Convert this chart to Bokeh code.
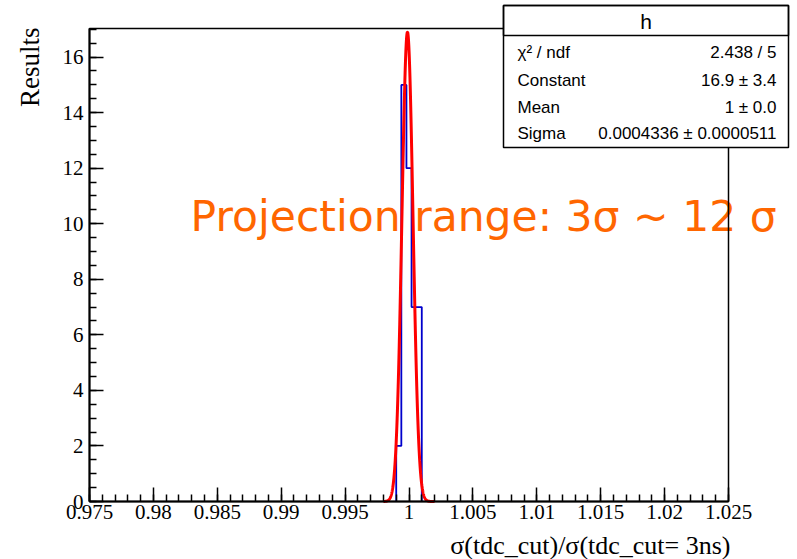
import numpy as np
from bokeh.plotting import figure
from bokeh.models import (Range1d, SingleIntervalTicker, Label, BoxAnnotation,
                          LinearAxis)
from bokeh.embed import file_html
from bokeh.resources import INLINE

# ---- histogram contents (bin edges and counts) ----
bin_edges = [0.9990, 0.9994, 0.9998, 1.0002, 1.0006, 1.0010]
bin_counts = [2, 15, 12, 7, 7]

# ---- gaussian fit result ----
fit_constant = 16.9
fit_mean = 0.99988
fit_sigma = 0.0004336
fit_range = [0.998, 1.002]

stats_rows = [
    ("\u03c7\u00b2 / ndf", "2.438 / 5"),
    ("Constant", "16.9 \u00b1 3.4"),
    ("Mean", "1 \u00b1 0.0"),
    ("Sigma", "0.0004336 \u00b1 0.0000511"),
]

x_lo, x_hi = 0.975, 1.025
y_lo, y_hi = 0.0, 17.03

# pad geometry in pixels: the histogram frame sits inside the full canvas
FL, FT, FW, FH = 89, 28, 639, 473
W, H = 797, 559


def dx(px):
    return x_lo + (px - FL) * (x_hi - x_lo) / FW


def dy(py):
    return y_lo + (FT + FH - py) * (y_hi - y_lo) / FH


p = figure(
    frame_width=W, frame_height=H, min_border=0,
    x_range=Range1d(dx(0), dx(W)), y_range=Range1d(dy(H), dy(0)),
    x_axis_location=None, y_axis_location=None,
    output_backend="svg", toolbar_location=None,
    background_fill_color="white", border_fill_color="white",
)
p.grid.visible = False
p.outline_line_color = None

serif = "Liberation Serif"


def style_axis(ax, standoff):
    ax.axis_line_width = 2
    ax.major_tick_in = 14
    ax.major_tick_out = 0
    ax.minor_tick_in = 7
    ax.minor_tick_out = 0
    ax.major_tick_line_width = 1.5
    ax.minor_tick_line_width = 1.5
    ax.major_label_standoff = standoff
    ax.major_label_text_font = serif
    ax.major_label_text_font_size = "21px"
    ax.major_label_text_color = "black"


xaxis = LinearAxis(fixed_location=y_lo, bounds=(x_lo, x_hi),
                   ticker=SingleIntervalTicker(interval=0.005, num_minor_ticks=5))
style_axis(xaxis, 3)
p.add_layout(xaxis, "below")

yaxis = LinearAxis(fixed_location=x_lo, bounds=(y_lo, y_hi),
                   ticker=SingleIntervalTicker(interval=2, num_minor_ticks=4))
style_axis(yaxis, 6)
p.add_layout(yaxis, "left")

# annotation text behind the data
p.add_layout(Label(
    x=dx(190), y=dy(216), text="Projection range: 3\u03c3 ~ 12 \u03c3",
    text_font="DejaVu Sans", text_font_size="42.5px", text_color="#ff6600",
    text_baseline="alphabetic", text_align="left", level="underlay",
))

# histogram outline
step_x = [bin_edges[0]]
step_y = [0]
for i, c in enumerate(bin_counts):
    step_x += [bin_edges[i], bin_edges[i + 1]]
    step_y += [c, c]
step_x.append(bin_edges[-1])
step_y.append(0)
p.line(step_x, step_y, line_color="#0000cc", line_width=1.8)

# gaussian fit curve
gx = np.linspace(fit_range[0], fit_range[1], 400)
gy = fit_constant * np.exp(-0.5 * ((gx - fit_mean) / fit_sigma) ** 2)
p.line(gx, gy, line_color="#ff0000", line_width=3)

# top and right edges of the histogram frame
p.add_layout(BoxAnnotation(
    left=x_lo, right=x_hi, bottom=y_lo, top=y_hi,
    fill_alpha=0.0, line_color="black", line_width=1.5, line_alpha=1.0,
))

# axis titles
p.add_layout(Label(
    x=dx(29), y=dy(27), text="Results", angle=np.pi / 2,
    text_font=serif, text_font_size="27px", text_align="right",
    text_baseline="alphabetic", text_color="black",
))
p.add_layout(Label(
    x=dx(730), y=dy(545), text="\u03c3(tdc_cut)/\u03c3(tdc_cut= 3ns)",
    text_font=serif, text_font_size="26px", text_align="right",
    text_baseline="alphabetic", text_color="black",
))

# statistics box
box_l, box_r, box_t, box_b, box_sep = 503, 788, 5, 147, 35
p.add_layout(BoxAnnotation(
    left=dx(box_l), right=dx(box_r), top=dy(box_t), bottom=dy(box_b),
    fill_color="white", fill_alpha=1.0, line_color="black", line_width=1.5,
    line_alpha=1.0,
))
p.add_layout(BoxAnnotation(
    left=dx(box_l), right=dx(box_r), top=dy(box_t), bottom=dy(box_sep),
    fill_alpha=0.0, line_color="black", line_width=1.5, line_alpha=1.0,
))
p.add_layout(Label(
    x=dx((box_l + box_r) / 2), y=dy(21), text="h",
    text_font="Liberation Sans", text_font_size="21px",
    text_align="center", text_baseline="middle", text_color="black",
))
row_y = [52, 80, 107, 133]
for (name, val), ry in zip(stats_rows, row_y):
    p.add_layout(Label(
        x=dx(517), y=dy(ry), text=name, text_font="Liberation Sans",
        text_font_size="17px", text_align="left", text_baseline="middle",
        text_color="black",
    ))
    p.add_layout(Label(
        x=dx(776), y=dy(ry), text=val, text_font="Liberation Sans",
        text_font_size="17px", text_align="right", text_baseline="middle",
        text_color="black",
    ))

open("out.html", "w").write(file_html(p, INLINE))
